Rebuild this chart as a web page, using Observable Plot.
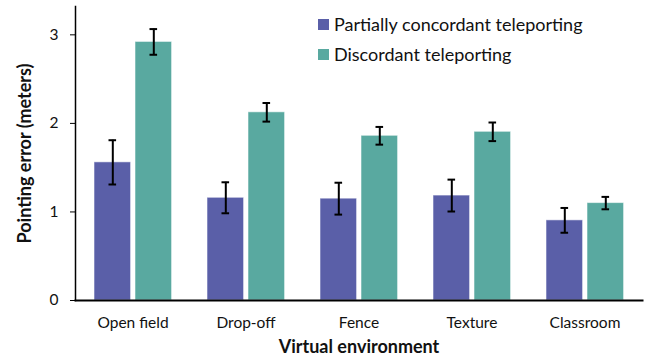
<!DOCTYPE html>
<html>
<head>
<meta charset="utf-8">
<script src="https://cdn.jsdelivr.net/npm/d3@7"></script>
<script src="https://cdn.jsdelivr.net/npm/@observablehq/plot@0.6"></script>
<style>
  body { margin: 0; background: #fff; font-family: Lato, "Open Sans", sans-serif; }
  #wrap { position: relative; width: 646px; height: 358px; }
  #legend { position: absolute; left: 318px; top: 9px; font-size: 18px; color: #111; }
  .item { display: flex; align-items: center; height: 30px; }
  .sw { width: 11px; height: 11px; margin-right: 5px; }
  g[aria-label="y-axis label"] text, g[aria-label="x-axis label"] text { font-weight: bold; font-size: 18px; fill: #111; }
</style>
</head>
<body>
<div id="wrap"></div>
<script>
const environments = ["Open field", "Drop-off", "Fence", "Texture", "Classroom"];
const series = ["Partially concordant teleporting", "Discordant teleporting"];
const partialMean = [1.56, 1.16, 1.15, 1.185, 0.905];
const partialErr = [0.25, 0.175, 0.18, 0.18, 0.14];
const discordMean = [2.92, 2.125, 1.86, 1.905, 1.10];
const discordErr = [0.145, 0.105, 0.10, 0.105, 0.07];
const yTicks = [0, 1, 2, 3];
const colors = ["#5a5fa8", "#59a9a0"];

const partial = environments.map((e, i) => ({env: e, series: series[0], v: partialMean[i], err: partialErr[i]}));
const discord = environments.map((e, i) => ({env: e, series: series[1], v: discordMean[i], err: discordErr[i]}));

const barOpts = {x: "env", y: "v", fill: "series", stroke: "white", strokeOpacity: 0.55, strokeWidth: 1};
const errRule = (dx) => ({x: "env", y1: d => d.v - d.err, y2: d => d.v + d.err, dx, stroke: "#000", strokeWidth: 2});
const cap = (y, l, r) => ({x: "env", y, insetLeft: l, insetRight: r, stroke: "#000", strokeWidth: 2});

const chart = Plot.plot({
  width: 646,
  height: 358,
  marginLeft: 75,
  marginRight: 4,
  marginTop: 6,
  marginBottom: 58,
  style: {fontFamily: "Lato, 'Open Sans', sans-serif", fontSize: "15.5px", color: "#111"},
  x: {type: "band", domain: environments, padding: 0},
  y: {domain: [0, 3.32]},
  color: {domain: series, range: colors},
  marks: [
    Plot.barY(partial, {...barOpts, insetLeft: 18, insetRight: 58.4}),
    Plot.barY(discord, {...barOpts, insetLeft: 59, insetRight: 17.4}),
    Plot.ruleX(partial, errRule(-20.2)),
    Plot.ruleX(discord, errRule(20.8)),
    Plot.tickY(partial, cap(d => d.v + d.err, 32.5, 72.9)),
    Plot.tickY(partial, cap(d => d.v - d.err, 32.5, 72.9)),
    Plot.tickY(discord, cap(d => d.v + d.err, 73.5, 31.9)),
    Plot.tickY(discord, cap(d => d.v - d.err, 73.5, 31.9)),
    Plot.frame({anchor: "left", stroke: "#000", strokeWidth: 1.5}),
    Plot.frame({anchor: "bottom", stroke: "#000", strokeWidth: 2}),
    Plot.axisY({ticks: yTicks, tickSize: 5, tickPadding: 12, tickFormat: d3.format("d"), label: "Pointing error (meters)", labelAnchor: "center", labelArrow: "none", labelOffset: 57, stroke: "#000"}),
    Plot.axisX({tickSize: 0, tickPadding: 16, label: "Virtual environment", labelAnchor: "center", labelArrow: "none", labelOffset: 52})
  ]
});

const wrap = document.getElementById("wrap");
wrap.appendChild(chart);
const legend = document.createElement("div");
legend.id = "legend";
series.forEach((s, i) => {
  const it = document.createElement("div");
  it.className = "item";
  const sw = document.createElement("span");
  sw.className = "sw";
  sw.style.background = colors[i];
  const t = document.createElement("span");
  t.textContent = s;
  it.appendChild(sw);
  it.appendChild(t);
  legend.appendChild(it);
});
wrap.appendChild(legend);
</script>
</body>
</html>
